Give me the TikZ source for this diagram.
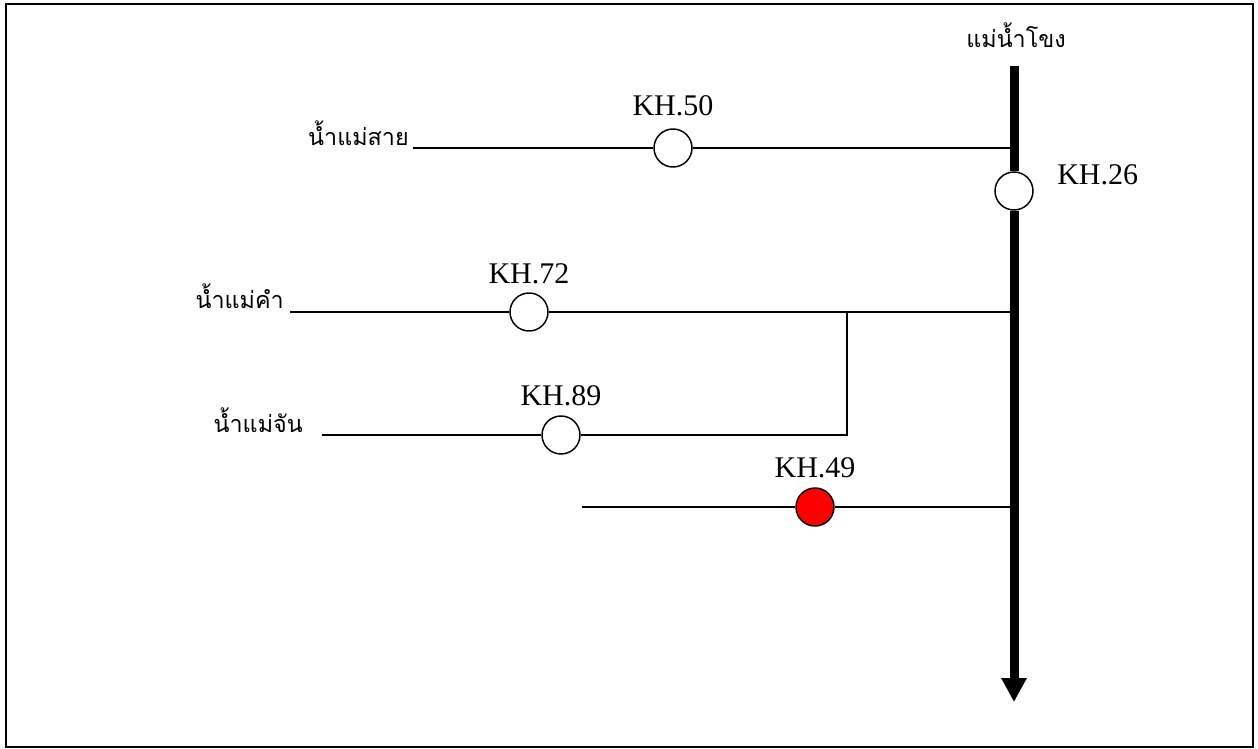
\documentclass[tikz,border=0pt]{standalone}
\usepackage{fontspec}
\setmainfont{Liberation Serif}
\newfontfamily\thaifont[Script=Thai]{Loma}
\usetikzlibrary{positioning,arrows.meta}

\begin{document}
\begin{tikzpicture}[
  x=0.75pt, y=-0.75pt,
  >={Triangle[length=18pt,width=18pt]},
  font=\fontsize{22.5}{27}\selectfont,
  station/.style={draw, circle, line width=1.1pt, fill=white, minimum size=28.5pt, inner sep=0pt},
  alert/.style={station, fill=red},
  branch/.style={line width=1.1pt},
  mainriver/.style={line width=6.75pt},
  code/.style={inner sep=0pt},
  riverlbl/.style={inner sep=0pt, font=\fontsize{17.5}{21}\selectfont\thaifont}
]
\useasboundingbox (0,0) rectangle (1258,749);

% Frame
\draw[line width=1.5pt] (6,4) rectangle (1253,747);

% Mekong (main stem)
\coordinate (src) at (1014,66);
\coordinate (mouth) at (1014,702);
\node[riverlbl, anchor=base] (mekong) at (1016,48) {แม่น้ำโขง};
\node[station] (kh26) at (1014,191) {};
\node[code, anchor=base west] (lbl26) at (1057,185) {KH.26};
\draw[mainriver] (src) -- (kh26);
\draw[mainriver,->] (kh26) -- (mouth);

% Confluences on the Mekong
\coordinate (msai) at (1014,148);
\coordinate (mkham) at (1014,312);
\coordinate (m49) at (1014,507);
\coordinate (jn) at (847,312);
\coordinate (jc) at (847,435);

% Mae Sai
\coordinate (sai) at (413,148);
\node[riverlbl, anchor=base east] (saiLbl) at (409,146) {น้ำแม่สาย};
\node[station] (kh50) at (673,148) {};
\node[code, above=9pt of kh50] (lbl50) {KH.50};
\draw[branch] (sai) -- (kh50) -- (msai);

% Mae Kham
\coordinate (kham) at (290,312);
\node[riverlbl, anchor=base east] (khamLbl) at (284,308) {น้ำแม่คำ};
\node[station] (kh72) at (529,312) {};
\node[code, above=6pt of kh72] (lbl72) {KH.72};
\draw[branch] (kham) -- (kh72) -- (jn) -- (mkham);

% Mae Chan
\coordinate (chan) at (322,435);
\node[riverlbl, anchor=base east] (chanLbl) at (303,432) {น้ำแม่จัน};
\node[station] (kh89) at (561,435) {};
\node[code, above=7pt of kh89] (lbl89) {KH.89};
\draw[branch] (chan) -- (kh89) -- (jc) -- (jn);

% KH.49 (highlighted)
\coordinate (s49) at (582,507);
\node[alert] (kh49) at (815,507) {};
\node[code, above=7pt of kh49] (lbl49) {KH.49};
\draw[branch] (s49) -- (kh49) -- (m49);

\end{tikzpicture}
\end{document}
